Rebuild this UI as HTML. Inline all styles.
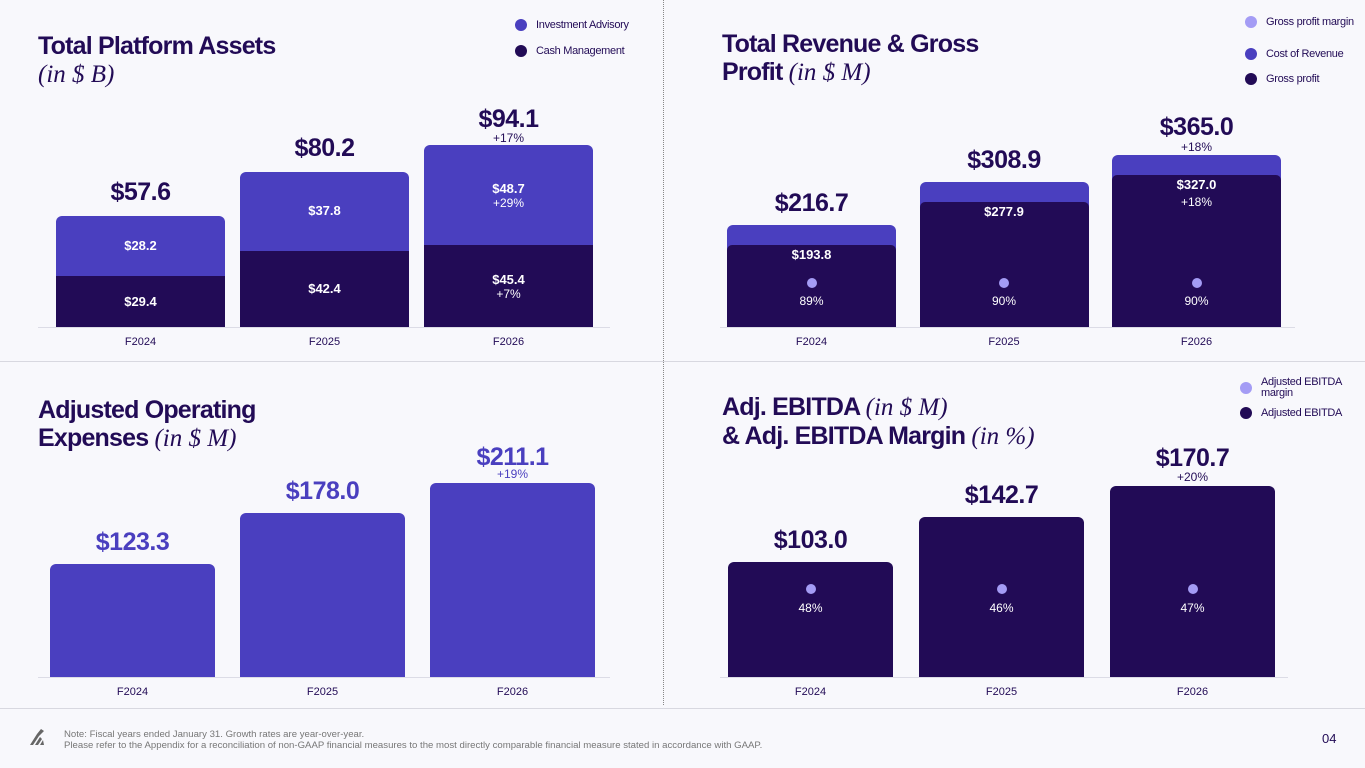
<!DOCTYPE html>
<html><head><meta charset="utf-8">
<style>
html,body{margin:0;padding:0}
body{width:1365px;height:768px;background:#f8f8fc;position:relative;overflow:hidden;font-family:"Liberation Sans",sans-serif;color:#220b56}
.a{position:absolute}
.title{position:absolute;font-weight:bold;font-size:25px;line-height:28px;letter-spacing:-0.8px;color:#220b56}
.title i{font-family:"Liberation Serif",serif;font-weight:normal;letter-spacing:0}
.leg{position:absolute;font-size:11px;color:#220b56;display:flex;align-items:center;letter-spacing:-0.3px}
.leg span.d{width:12px;height:12px;border-radius:50%;display:inline-block;margin-right:9px}
.bar{position:absolute;border-radius:6px 6px 0 0}
.lbl{position:absolute;transform:translateX(-50%);text-align:center;white-space:nowrap}
.big{font-weight:bold;font-size:25px;letter-spacing:-0.5px}
.seg{font-weight:bold;font-size:13px;color:#fff}
.pct{font-size:12px;color:#fff}
.gr{font-size:12px}
.xl{font-size:11px;color:#220b56}
.dot{position:absolute;width:10px;height:10px;border-radius:50%;background:#a49cf5;transform:translate(-50%,-50%)}
.axis{position:absolute;height:1px;background:#dcdce6}
</style></head><body>
<div class="a" style="left:663px;top:0;height:705px;border-left:1px dotted #888"></div>
<div class="a" style="left:0;top:361px;width:1365px;height:1px;background:#d8d8e0"></div>
<div class="a" style="left:0;top:708px;width:1365px;height:1px;background:#d8d8e0"></div>

<div class="title" style="left:38px;top:32px">Total Platform Assets<br><i>(in $ B)</i></div>
<div class="title" style="left:722px;top:30px">Total Revenue &amp; Gross<br>Profit <i>(in $ M)</i></div>
<div class="title" style="left:38px;top:396px">Adjusted Operating<br>Expenses <i>(in $ M)</i></div>
<div class="title" style="left:722px;top:393px">Adj. EBITDA <i>(in $ M)</i><br>&amp; Adj. EBITDA Margin <i>(in %)</i></div>

<div class="leg" style="left:515px;top:19px"><span class="d" style="background:#4a3fbf"></span>Investment Advisory</div>
<div class="leg" style="left:515px;top:45px"><span class="d" style="background:#220b56"></span>Cash Management</div>
<div class="leg" style="left:1245px;top:16px"><span class="d" style="background:#a49cf5"></span>Gross profit margin</div>
<div class="leg" style="left:1245px;top:48px"><span class="d" style="background:#4a3fbf"></span>Cost of Revenue</div>
<div class="leg" style="left:1245px;top:73px"><span class="d" style="background:#220b56"></span>Gross profit</div>
<div class="leg" style="left:1240px;top:377px;line-height:11px"><span class="d" style="background:#a49cf5"></span>Adjusted EBITDA<br>margin</div>
<div class="leg" style="left:1240px;top:407px"><span class="d" style="background:#220b56"></span>Adjusted EBITDA</div>

<div class="a" style="left:28px;top:728px;width:18px;height:18px">
<svg width="18" height="18"><path d="M2 17 L9 6 L11 8 L5 17Z M7 17 L12 9 L14 11 L10 17Z M12 17 L15 12 L16 17Z M9 6 L13 1 L16 3 L11 8Z" fill="#666"/></svg></div>
<div class="a" style="left:64px;top:729px;font-size:9.6px;line-height:11px;color:#777">Note: Fiscal years ended January 31. Growth rates are year-over-year.<br>Please refer to the Appendix for a reconciliation of non-GAAP financial measures to the most directly comparable financial measure stated in accordance with GAAP.</div>
<div class="a" style="left:1322px;top:731px;font-size:13px;color:#220b56">04</div>

<script>
const years = ["F2024","F2025","F2026"];
const assetsCash = [29.4,42.4,45.4];
const assetsAdvisory = [28.2,37.8,48.7];
const assetsTotal = [57.6,80.2,94.1];
const revGross = [193.8,277.9,327.0];
const revTotal = [216.7,308.9,365.0];
const grossMargin = ["89%","90%","90%"];
const opex = [123.3,178.0,211.1];
const ebitda = [103.0,142.7,170.7];
const ebitdaMargin = ["48%","46%","47%"];
const growthAssets = ["+17%","+29%","+7%"];
const growthRev = ["+18%","+18%"];
const growthOpex = "+19%";
const growthEbitda = "+20%";

const DARK="#220b56", MID="#4a3fbf";
function el(cls,name,css,txt){const d=document.createElement('div');d.className=cls;


d.style.cssText=css;if(txt!==undefined)d.textContent=txt;document.body.appendChild(d);return d;}
function fmt(v){return "$"+v.toFixed(1);}

function panel(p){
  const y=v=>p.base-v*p.k;
  el('axis',p.id+'-axis',`left:${p.ax0}px;top:${p.base}px;width:${p.ax1-p.ax0}px`);
  years.forEach((yr,i)=>{
    const x=p.x0+i*p.step, cx=x+p.w/2;
    el('xl lbl',p.id+'-xlabel-'+yr,`left:${cx}px;top:${p.base+9}px`,yr);
    p.draw(i,x,cx,y);
  });
}

// Panel 1
panel({id:'assets',base:327,k:1.934,x0:56,step:184,w:169,ax0:38,ax1:610,draw:(i,x,cx,y)=>{
  const t=y(assetsTotal[i]), m=y(assetsCash[i])+6;
  el('bar','bar-advisory-'+years[i],`left:${x}px;top:${t}px;width:169px;height:${m-t+4}px;background:${MID}`);
  el('bar','bar-cash-'+years[i],`left:${x}px;top:${m}px;width:169px;height:${327-m}px;background:${DARK};border-radius:0`);
  const l2=i==2;
  el('big lbl','total-label-'+years[i],`left:${cx}px;top:${t-(l2?40:38)}px`,fmt(assetsTotal[i]));
  el('seg lbl','advisory-label-'+years[i],`left:${cx}px;top:${(t+m)/2-(l2?14:8)}px`,fmt(assetsAdvisory[i]));
  el('seg lbl','cash-label-'+years[i],`left:${cx}px;top:${(m+327)/2-(l2?14:8)}px`,fmt(assetsCash[i]));
  if(l2){
    el('gr lbl','growth-total',`left:${cx}px;top:${t-14}px`,growthAssets[0]);
    el('pct lbl','growth-advisory',`left:${cx}px;top:${(t+m)/2+1}px`,growthAssets[1]);
    el('pct lbl','growth-cash',`left:${cx}px;top:${(m+327)/2+1}px`,growthAssets[2]);
  }
}});

// Panel 2
panel({id:'revenue',base:327,k:0.471,x0:727,step:192.5,w:169,ax0:720,ax1:1295,draw:(i,x,cx,y)=>{
  const t=y(revTotal[i]), m=t+20;
  el('bar','bar-cost-of-revenue-'+years[i],`left:${x}px;top:${t}px;width:169px;height:26px;background:${MID}`);
  el('bar','bar-gross-profit-'+years[i],`left:${x}px;top:${m}px;width:169px;height:${327-m}px;background:${DARK};border-radius:5px 5px 0 0`);
  el('big lbl','revenue-label-'+years[i],`left:${cx}px;top:${t-(i==2?42:36)}px`,fmt(revTotal[i]));
  el('seg lbl','gross-profit-label-'+years[i],`left:${cx}px;top:${m+2}px`,fmt(revGross[i]));
  el('dot','margin-dot-'+years[i],`left:${cx}px;top:283px`);
  el('pct lbl','margin-label-'+years[i],`left:${cx}px;top:294px`,grossMargin[i]);
  if(i==2){
    el('gr lbl','growth-revenue',`left:${cx}px;top:${t-15}px`,growthRev[0]);
    el('pct lbl','growth-gross-profit',`left:${cx}px;top:${m+20}px`,growthRev[1]);
  }
}});

// Panel 3
panel({id:'opex',base:677,k:0.919,x0:50,step:190,w:165,ax0:38,ax1:610,draw:(i,x,cx,y)=>{
  const t=y(opex[i]);
  el('bar','bar-opex-'+years[i],`left:${x}px;top:${t}px;width:165px;height:${677-t}px;background:${MID}`);
  el('big lbl','opex-label-'+years[i],`left:${cx}px;top:${t-(i==2?40:36)}px;color:${MID}`,fmt(opex[i]));
  if(i==2) el('gr lbl','growth-opex',`left:${cx}px;top:${t-16}px;color:${MID}`,growthOpex);
}});

// Panel 4
panel({id:'ebitda',base:677,k:1.119,x0:728,step:191,w:165,ax0:720,ax1:1288,draw:(i,x,cx,y)=>{
  const t=y(ebitda[i]);
  el('bar','bar-ebitda-'+years[i],`left:${x}px;top:${t}px;width:165px;height:${677-t}px;background:${DARK}`);
  el('big lbl','ebitda-label-'+years[i],`left:${cx}px;top:${t-(i==2?42:36)}px`,fmt(ebitda[i]));
  el('dot','ebitda-margin-dot-'+years[i],`left:${cx}px;top:589px`);
  el('pct lbl','ebitda-margin-label-'+years[i],`left:${cx}px;top:601px`,ebitdaMargin[i]);
  if(i==2) el('gr lbl','growth-ebitda',`left:${cx}px;top:${t-16}px`,growthEbitda);
}});
</script>
</body></html>
